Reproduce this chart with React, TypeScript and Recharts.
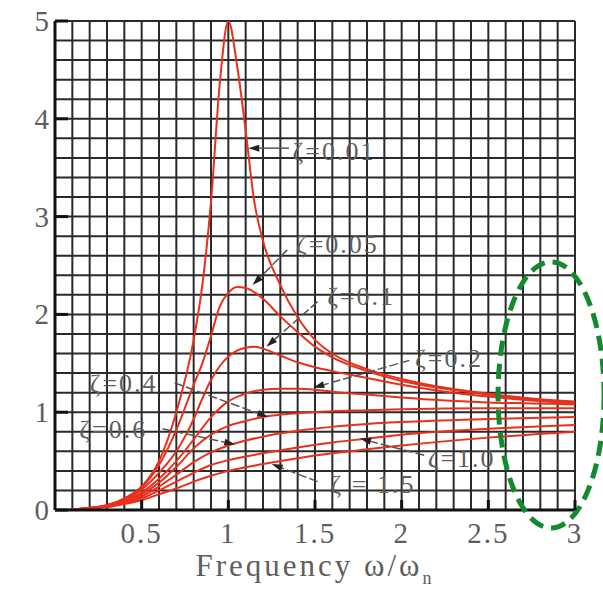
import React from "react";
import { LineChart, Line, XAxis, YAxis, CartesianGrid, ReferenceLine, ReferenceDot, Label } from "recharts";

// axis ticks (grid every 0.1 / 0.2, labels only on some)
const xTicks = [0, 0.1, 0.2, 0.3, 0.4, 0.5, 0.6, 0.7, 0.8, 0.9, 1, 1.1, 1.2, 1.3, 1.4, 1.5, 1.6, 1.7, 1.8, 1.9, 2, 2.1, 2.2, 2.3, 2.4, 2.5, 2.6, 2.7, 2.8, 2.9, 3];
const yTicks = [0, 0.2, 0.4, 0.6, 0.8, 1, 1.2, 1.4, 1.6, 1.8, 2, 2.2, 2.4, 2.6, 2.8, 3, 3.2, 3.4, 3.6, 3.8, 4, 4.2, 4.4, 4.6, 4.8, 5];
const xTickLabels = ["0.5", "1", "1.5", "2", "2.5", "3"];
const yTickLabels = ["0", "1", "2", "3", "4", "5"];

// curves: [frequency ratio, amplitude]
const zeta001 = [[0.08, 0], [0.2, 0.02], [0.3, 0.05], [0.4, 0.12], [0.5, 0.24], [0.6, 0.5], [0.7, 1.0], [0.8, 1.74], [0.85, 2.3], [0.9, 3.15], [0.95, 4.35], [1.0, 5.0], [1.05, 4.55], [1.1, 3.88], [1.15, 3.15], [1.2, 2.75], [1.3, 2.3], [1.4, 1.97], [1.5, 1.74], [1.6, 1.6], [1.8, 1.44], [2.0, 1.34], [2.25, 1.25], [2.5, 1.19], [2.75, 1.14], [3.0, 1.11]];
const zeta005 = [[0.08, 0], [0.2, 0.02], [0.3, 0.05], [0.4, 0.11], [0.5, 0.23], [0.6, 0.46], [0.7, 0.82], [0.8, 1.28], [0.85, 1.5], [0.9, 1.78], [0.95, 2.08], [1.0, 2.22], [1.05, 2.28], [1.1, 2.27], [1.2, 2.16], [1.3, 1.98], [1.4, 1.82], [1.5, 1.67], [1.6, 1.56], [1.8, 1.42], [2.0, 1.32], [2.25, 1.24], [2.5, 1.18], [2.75, 1.13], [3.0, 1.1]];
const zeta01 = [[0.08, 0], [0.2, 0.02], [0.3, 0.05], [0.4, 0.1], [0.5, 0.21], [0.6, 0.38], [0.7, 0.6], [0.8, 0.93], [0.85, 1.14], [0.9, 1.33], [0.95, 1.47], [1.0, 1.57], [1.05, 1.63], [1.1, 1.66], [1.15, 1.67], [1.2, 1.65], [1.3, 1.58], [1.4, 1.51], [1.5, 1.46], [1.6, 1.42], [1.8, 1.35], [2.0, 1.28], [2.25, 1.21], [2.5, 1.16], [2.75, 1.12], [3.0, 1.09]];
const zeta02 = [[0.08, 0], [0.2, 0.02], [0.3, 0.04], [0.4, 0.09], [0.5, 0.18], [0.6, 0.32], [0.7, 0.5], [0.8, 0.72], [0.9, 0.95], [1.0, 1.11], [1.1, 1.19], [1.2, 1.23], [1.3, 1.24], [1.4, 1.24], [1.5, 1.23], [1.6, 1.21], [1.8, 1.18], [2.0, 1.15], [2.25, 1.12], [2.5, 1.1], [2.75, 1.09], [3.0, 1.08]];
const zeta04 = [[0.08, 0], [0.2, 0.02], [0.3, 0.04], [0.4, 0.08], [0.5, 0.16], [0.6, 0.28], [0.7, 0.44], [0.8, 0.63], [0.9, 0.77], [1.0, 0.86], [1.1, 0.91], [1.2, 0.95], [1.4, 0.99], [1.6, 1.01], [1.8, 1.02], [2.0, 1.03], [2.5, 1.04], [3.0, 1.04]];
const zeta06 = [[0.08, 0], [0.2, 0.02], [0.3, 0.04], [0.4, 0.07], [0.5, 0.14], [0.6, 0.24], [0.7, 0.36], [0.8, 0.49], [0.9, 0.59], [1.0, 0.66], [1.1, 0.71], [1.2, 0.75], [1.4, 0.81], [1.6, 0.85], [1.8, 0.88], [2.0, 0.9], [2.5, 0.93], [3.0, 0.95]];
const zeta10 = [[0.08, 0], [0.2, 0.02], [0.3, 0.03], [0.4, 0.07], [0.5, 0.12], [0.6, 0.2], [0.7, 0.29], [0.8, 0.38], [0.9, 0.46], [1.0, 0.51], [1.2, 0.58], [1.4, 0.64], [1.6, 0.69], [1.8, 0.73], [2.0, 0.77], [2.5, 0.83], [3.0, 0.87]];
const zeta15 = [[0.08, 0], [0.2, 0.01], [0.3, 0.03], [0.4, 0.06], [0.5, 0.1], [0.6, 0.16], [0.7, 0.22], [0.8, 0.29], [0.9, 0.35], [1.0, 0.4], [1.2, 0.47], [1.4, 0.53], [1.6, 0.58], [1.8, 0.62], [2.0, 0.66], [2.5, 0.74], [3.0, 0.8]];

const curves = [zeta001, zeta005, zeta01, zeta02, zeta04, zeta06, zeta10, zeta15];

// label text, label anchor (r, v), arrow tail, arrow tip
const annotations = [
  { text: "ζ=0.01", at: [1.37, 3.67], from: [1.35, 3.7], to: [1.115, 3.7], dashed: false },
  { text: "ζ=0.05", at: [1.39, 2.71], from: [1.34, 2.66], to: [1.14, 2.3], dashed: true },
  { text: "ζ=0.1", at: [1.57, 2.18], from: [1.515, 2.13], to: [1.22, 1.67], dashed: true },
  { text: "ζ=0.2", at: [2.077, 1.55], from: [2.045, 1.53], to: [1.49, 1.25], dashed: true },
  { text: "ζ=0.4", at: [0.2, 1.29], from: [0.69, 1.3], to: [1.23, 0.95], dashed: true },
  { text: "ζ=0.6", at: [0.14, 0.82], from: [0.62, 0.83], to: [1.04, 0.67], dashed: true },
  { text: "ζ=1.0", at: [2.15, 0.53], from: [2.13, 0.56], to: [1.76, 0.73], dashed: true },
  { text: "ζ = 1.5", at: [1.59, 0.26], from: [1.515, 0.29], to: [1.25, 0.47], dashed: true },
];

const highlight = { r: 2.862, v: 1.176 };

const RED = "#e8301c";
const TEXT = "#5e5e5e";
const serif = { fontFamily: "Liberation Serif" };

const labelFor = (value: number, labels: string[]) =>
  labels.find((l) => Math.abs(Number(l) - value) < 1e-6);

const XTick = (p: any) => {
  const lab = labelFor(p.payload.value, xTickLabels);
  if (!lab) return <g />;
  return (
    <g>
      <line x1={p.x} x2={p.x} y1={p.y} y2={p.y - 10} stroke="#111" strokeWidth={3} />
      <text x={p.x} y={p.y + 23} textAnchor="middle" dominantBaseline="central" fill={TEXT} fontSize={29} style={serif} letterSpacing={2}>
        {lab}
      </text>
    </g>
  );
};

const YTick = (p: any) => {
  const lab = labelFor(p.payload.value, yTickLabels);
  if (!lab) return <g />;
  return (
    <g>
      <line x1={p.x} x2={p.x + 13} y1={p.y} y2={p.y} stroke="#111" strokeWidth={3} />
      <text x={p.x - 6} y={p.y} textAnchor="end" dominantBaseline="central" fill={TEXT} fontSize={29} style={serif}>
        {lab}
      </text>
    </g>
  );
};

const Title = (props: any) => {
  const vb = props.viewBox;
  return (
    <text x={vb.x + vb.width / 2} y={vb.y + 66} textAnchor="middle" fill={TEXT} fontSize={31} style={serif} letterSpacing={3}>
      Frequency ω/ω<tspan fontSize={18} dy={8}>n</tspan>
    </text>
  );
};

const arrowShape = (dashed: boolean) => (p: any) => {
  const { x1, y1, x2, y2 } = p;
  const a = Math.atan2(y2 - y1, x2 - x1);
  const L = 11;
  const W = 3.5;
  const bx = x2 - L * Math.cos(a);
  const by = y2 - L * Math.sin(a);
  const pts = `${x2},${y2} ${bx - W * Math.sin(a)},${by + W * Math.cos(a)} ${bx + W * Math.sin(a)},${by - W * Math.cos(a)}`;
  return (
    <g>
      <line x1={x1} y1={y1} x2={bx} y2={by} stroke="#555" strokeWidth={1.5} strokeDasharray={dashed ? "9 3" : undefined} />
      <polygon points={pts} fill="#222" />
    </g>
  );
};

export default function App() {
  return (
    <div style={{ position: "absolute", left: 0, top: 0, background: "#fff" }}>
      <LineChart width={603} height={589} margin={{ top: 21, right: 28, bottom: 0, left: 0 }}>
        <CartesianGrid stroke="#2a2a2a" strokeWidth={2} />
        <XAxis
          dataKey="r"
          type="number"
          domain={[0, 3]}
          ticks={xTicks}
          interval={0}
          allowDataOverflow
          height={79}
          tickSize={0}
          tickMargin={0}
          tickLine={false}
          tick={XTick}
          axisLine={{ stroke: "#111", strokeWidth: 3 }}
        >
          <Label content={Title} />
        </XAxis>
        <YAxis
          type="number"
          domain={[0, 5]}
          ticks={yTicks}
          interval={0}
          allowDataOverflow
          width={55}
          tickSize={0}
          tickMargin={0}
          tickLine={false}
          tick={YTick}
          axisLine={{ stroke: "#111", strokeWidth: 3 }}
        />
        {curves.map((pts, i) => (
          <Line
            key={i}
            data={pts.map(([r, v]) => ({ r, v }))}
            dataKey="v"
            type="monotone"
            stroke={RED}
            strokeWidth={2}
            dot={false}
            isAnimationActive={false}
          />
        ))}
        {annotations.map((a, i) => (
          <ReferenceLine
            key={`arrow-${i}`}
            segment={[{ x: a.from[0], y: a.from[1] }, { x: a.to[0], y: a.to[1] }]}
            ifOverflow="visible"
            shape={arrowShape(a.dashed)}
          />
        ))}
        {annotations.map((a, i) => (
          <ReferenceDot
            key={`lab-${i}`}
            x={a.at[0]}
            y={a.at[1]}
            ifOverflow="visible"
            shape={(p: any) => (
              <text x={p.cx} y={p.cy} dominantBaseline="central" fill={TEXT} fontSize={26} style={serif} letterSpacing={2}>
                {a.text}
              </text>
            )}
          />
        ))}
        <ReferenceDot
          x={highlight.r}
          y={highlight.v}
          ifOverflow="visible"
          shape={(p: any) => (
            <ellipse cx={p.cx} cy={p.cy} rx={53} ry={133} fill="none" stroke="#138a2e" strokeWidth={5} strokeDasharray="15 8" />
          )}
        />
      </LineChart>
    </div>
  );
}
